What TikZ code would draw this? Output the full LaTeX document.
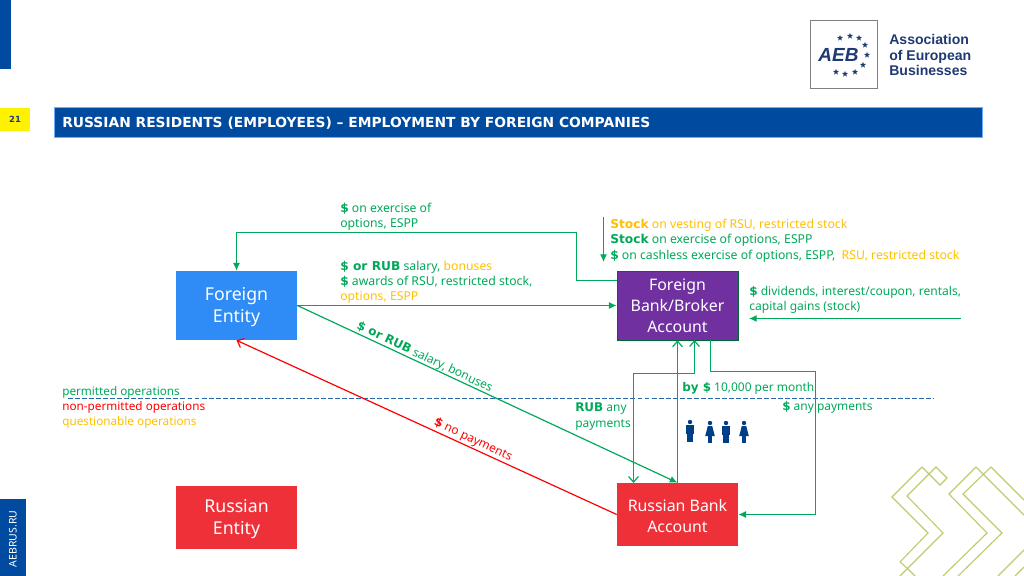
\documentclass[tikz,border=0pt]{standalone}
\usepackage{xcolor}
\usepackage{fontspec}
\setmainfont{Noto Sans}[BoldFont={DejaVu Sans Bold}]
\newfontfamily\logofont{Liberation Sans}
\usepackage{tikz}
\usetikzlibrary{calc,arrows.meta,shapes.geometric}

\definecolor{aebblue}{HTML}{004A9F}
\definecolor{aebnavy}{HTML}{1F3A73}
\definecolor{okgreen}{HTML}{00A859}
\definecolor{amber}{HTML}{FFC000}
\definecolor{nored}{HTML}{FF0000}
\definecolor{boxred}{HTML}{EE3039}
\definecolor{boxblue}{HTML}{2F8CF6}
\definecolor{boxpurple}{HTML}{7030A0}
\definecolor{olive}{HTML}{BFCB6B}

\newcommand{\bgreen}[1]{\textbf{\color{okgreen}#1}}
\newcommand{\lamber}[1]{{\color{amber}#1}}

\tikzset{
  fulltip/.tip={Latex[length=5.5pt,width=5pt]},
  opentip/.tip={Straight Barb[length=4pt,width=7pt]},
  link/.style={draw=okgreen,line width=0.85pt},
  entity/.style={minimum width=3.025cm,minimum height=1.725cm,inner sep=0pt},
  entitytext/.style={inner sep=0pt,align=center,text=white,font=\fontsize{12.6}{16.2}\selectfont},
  accttext/.style={entitytext,font=\fontsize{11.3}{14.8}\selectfont},
  lbl/.style={anchor=north west,inner sep=0pt,align=left,text=okgreen,font=\fontsize{8.5}{10.9}\selectfont},
  lblwide/.style={lbl,font=\fontsize{8.7}{10.9}\selectfont},
  deco/.style={draw=olive,line width=0.8pt},
  man/.pic={\fill (0,-9) circle (2.2);
    \fill (-3.7,-6) rectangle (3.7,3);
    \fill (-2.6,3) rectangle (-0.4,11);
    \fill (0.4,3) rectangle (2.6,11);},
  woman/.pic={\fill (0,-9) circle (2.2);
    \fill (-2.2,-6) -- (2.2,-6) -- (4.8,4) -- (-4.8,4) -- cycle;
    \fill (-2,4) rectangle (-0.4,11);
    \fill (0.4,4) rectangle (2,11);}
}

\begin{document}
\begin{tikzpicture}[x=0.025cm,y=-0.025cm]
\useasboundingbox (0,0) rectangle (1024,576);

% slide furniture
\fill[aebblue] (0,0) rectangle (11,69);
\node[fill=yellow,minimum width=0.75cm,minimum height=0.575cm,inner sep=0pt,text=aebnavy,font=\bfseries\fontsize{6}{8}\selectfont] (pagenum) at (15,119.5) {21};
\node[fill=aebblue,draw=boxblue!70,line width=0.4pt,minimum width=23.2cm,minimum height=0.75cm,inner sep=0pt] (header) at (518,122) {};
\node[anchor=base west,inner sep=0pt,text=white,font=\bfseries\fontsize{9.83}{12}\selectfont] (title) at (62,127.5) {RUSSIAN RESIDENTS (EMPLOYEES) -- EMPLOYMENT BY FOREIGN COMPANIES};
\node[fill=aebblue,minimum width=0.65cm,minimum height=1.925cm,inner sep=0pt] (sidebar) at (13,537.5) {};
\node[rotate=90,inner sep=0pt,text=white,font=\fontsize{7.5}{9}\selectfont] (siteurl) at (13,539) {AEBRUS.RU};

% logo
\node[draw=gray,line width=0.7pt,minimum width=1.675cm,minimum height=1.675cm,inner sep=0pt] (logo) at (844,54.5) {};
\node[text=aebnavy,inner sep=0pt,font=\logofont\bfseries\itshape\fontsize{13.5}{14}\selectfont] (logotext) at (838.5,55) {AEB};
\foreach \sx/\sy in {840/38,850/36,859/38,865/45,867/55,863/65,855/72,845/74,836/72}
  \node[star,star points=5,star point ratio=2.4,fill=aebnavy,inner sep=0pt,minimum size=4.5pt] at (\sx,\sy) {};
\node[anchor=west,inner sep=0pt,align=left,text=aebnavy,font=\logofont\bfseries\fontsize{10}{10.9}\selectfont] (logoname) at (889,55) {Association\\of European\\Businesses};

% decoration bottom right
\draw[deco] (922,467) -- (940,485) -- (947,478) -- (936,467) -- (907,496) -- (943,533) -- (900,576);
\draw[deco] (900,562) -- (907,568) -- (915,576);
\draw[deco] (922,467) -- (892,497) -- (928,533) -- (900,562);
\draw[deco] (976,467) -- (949,494) -- (987,533) -- (943,576);
\draw[deco] (991,467) -- (963,494) -- (1002,533) -- (958,576);
\draw[deco] (976,467) -- (1024,515);
\draw[deco] (991,467) -- (1024,500);
\draw[deco] (998,576) -- (1024,550);
\draw[deco] (1015,576) -- (1024,567);

% boxes
\node[entity,fill=boxblue] (foreign) at (236.5,305.5) {};
\node[entity,fill=boxpurple,draw=okgreen!60!black] (broker) at (677.5,305.5) {};
\node[entity,fill=boxred,minimum height=1.575cm] (rusent) at (236.5,517.5) {};
\node[entity,fill=boxred,minimum height=1.575cm] (rusbank) at (677.5,514.5) {};
\node[entitytext] (foreigntext) at (236.5,307) {Foreign\\Entity};
\node[accttext] (brokertext) at (677.5,306) {Foreign\\Bank/Broker\\Account};
\node[entitytext] (rusenttext) at (236.5,519) {Russian\\Entity};
\node[accttext] (rusbanktext) at (677.5,516) {Russian Bank\\Account};

% free ends of connectors
\coordinate (brokerA) at (617,280.5);
\coordinate (brokerB) at (694.5,340);
\coordinate (brokerC) at (710.5,340);
\coordinate (rusbankB) at (633.5,483);
\coordinate (stockA) at (603.5,217);
\coordinate (stockB) at (603.5,262);
\coordinate (divA) at (961,318.5);
\coordinate (divB) at (749,318.5);
\coordinate (lineA) at (68,398.5);
\coordinate (lineB) at (933,398.5);

\draw[draw=aebblue!85,dash pattern=on 3.5pt off 1.5pt,line width=0.6pt] (lineA) -- (lineB);

% connectors
\draw[link,-fulltip] (brokerA) -- (576.5,280.5) -- (576.5,232.5) -- (236.5,232.5) -- (foreign.north);
\draw[link,-fulltip] (foreign.east) -- (broker.west);
\draw[link,-fulltip] (foreign.east) -- (rusbank.north);
\draw[draw=nored,line width=0.85pt,-opentip] (rusbank.west) -- (foreign.south);
\draw[link,-opentip] (rusbank.north) -- (broker.south);
\draw[link,opentip-opentip] (brokerB) -- (694.5,373.5) -- (633.5,373.5) -- (rusbankB);
\draw[link,-fulltip] (brokerC) -- (710.5,371.5) -- (815.5,371.5) -- (815.5,514.5) -- (rusbank.east);
\draw[link,-fulltip] (stockA) -- (stockB);
\draw[link,-fulltip] (divA) -- (divB);

% labels
\node[lblwide] (lblexercise) at (340,202.5) {\bgreen{\$} on exercise of\\options, ESPP};
\node[lblwide] (lblsalary) at (340,260.5) {\bgreen{\$ or RUB} salary, \lamber{bonuses}\\\bgreen{\$} awards of RSU, restricted stock,\\\lamber{options, ESPP}};
\node[lblwide] (lblstock) at (610,219) {\textbf{\color{amber}Stock} \lamber{on vesting of RSU, restricted stock}\\\bgreen{Stock} on exercise of options, ESPP\\\bgreen{\$} on cashless exercise of options, ESPP,\ \ \lamber{RSU, restricted stock}};
\node[lbl,font=\fontsize{8.58}{10.9}\selectfont] (lbldiv) at (749,286) {\bgreen{\$} dividends, interest/coupon, rentals,\\capital gains (stock)};
\node[lbl,anchor=center,rotate=-25.3] (lblrub) at (424.5,357.5) {\bgreen{\$ or RUB} salary, bonuses};
\node[lbl,anchor=center,rotate=-25.3,text=nored] (lblno) at (473,440) {\textbf{\$} no payments};
\node[lbl] (lblten) at (682,382) {\bgreen{by \$} 10,000 per month};
\node[lbl] (lblany) at (782,401) {\bgreen{\$} any payments};
\node[lbl] (lblrubany) at (575,403) {\bgreen{RUB} any\\payments};
\node[lbl,font=\fontsize{8.35}{10.9}\selectfont] (lbllegend) at (62,386) {permitted operations\\{\color{nored}non-permitted operations}\\\lamber{questionable operations}};

% people
\begin{scope}[aebnavy]
\pic[fill=aebblue!85!black] at (690,431) {man};
\pic[fill=aebblue!85!black] at (710,432) {woman};
\pic[fill=aebblue!85!black] at (726,432) {man};
\pic[fill=aebblue!85!black] at (744,432) {woman};
\end{scope}

\end{tikzpicture}
\end{document}
